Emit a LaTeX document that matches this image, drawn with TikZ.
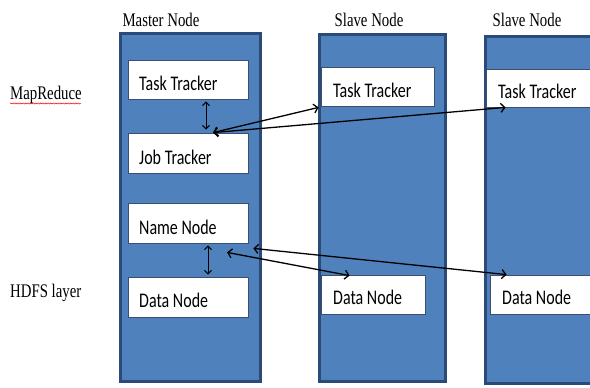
\documentclass[tikz,border=0pt]{standalone}
\usepackage{fontspec}
\setmainfont{Liberation Serif}
\newfontfamily\calib{Carlito}
\usetikzlibrary{arrows.meta,decorations.pathmorphing}
\definecolor{boxblue}{RGB}{79,129,189}
\definecolor{boxedge}{RGB}{44,74,120}
\definecolor{whiteedge}{RGB}{60,80,110}
\tikzset{
  column/.style={draw=boxedge, fill=boxblue, line width=3pt},
  compbox/.style={draw=whiteedge, fill=white, line width=0.8pt, rectangle, inner sep=0pt},
  comptext/.style={anchor=west, inner sep=0pt, font=\calib\fontsize{16}{16}\selectfont},
  headtext/.style={inner sep=0pt, font=\fontsize{14.8}{15}\selectfont},
  conn/.style={line width=1.3pt, {Straight Barb[length=4pt,width=9pt]}-{Straight Barb[length=4pt,width=9pt]}},
  vconn/.style={line width=1pt, {Straight Barb[length=3.5pt,width=7pt]}-{Straight Barb[length=3.5pt,width=7pt]}}
}
\newcommand{\vs}[1]{\scalebox{1}[1.3]{#1}}
\begin{document}
\begin{tikzpicture}[x=1pt,y=-1pt]
\useasboundingbox (0,0) rectangle (590,388);
\clip (0,0) rectangle (590,388);
\fill[white] (0,0) rectangle (590,388);
% columns
\draw[column] (120.5,33.5) rectangle (260.5,381.5);
\draw[column] (319.5,34.5) rectangle (445.5,381.5);
\draw[column] (485.5,36.5) rectangle (600,383.5);
% headings
\node[headtext] (hmaster) at (161,20) {\vs{Master Node}};
\node[headtext] (hslave1) at (369,20) {\vs{Slave Node}};
\node[headtext] (hslave2) at (527,20) {\vs{Slave Node}};
\node[headtext, anchor=west] (hmr) at (10,95) {\vs{MapReduce}};
\node[headtext, anchor=west] (hhdfs) at (10,293) {\vs{HDFS layer}};
\draw[red, line width=0.5pt, decorate, decoration={snake, amplitude=0.6pt, segment length=2.5pt}] (10,103.5) -- (81,103.5);
% component boxes (master)
\node[compbox, minimum width=120pt, minimum height=39pt] (tt0) at (188,79.5) {};
\node[compbox, minimum width=120pt, minimum height=40pt] (jt) at (188,153) {};
\node[compbox, minimum width=120pt, minimum height=40pt] (nn) at (188,223) {};
\node[compbox, minimum width=120pt, minimum height=40pt] (dn0) at (188,297) {};
% slave 1
\node[compbox, minimum width=113pt, minimum height=39pt] (tt1) at (377.5,86.5) {};
\node[compbox, minimum width=104pt, minimum height=39pt] (dn1) at (373,294.5) {};
% slave 2
\node[compbox, minimum width=114pt, minimum height=38pt] (tt2) at (543,88) {};
\node[compbox, minimum width=110pt, minimum height=39pt] (dn2) at (545,294.5) {};
% texts
\node[comptext] (ttt0) at (139,83) {\vs{Task Tracker}};
\node[comptext] (tjt) at (139,157) {\vs{Job Tracker}};
\node[comptext] (tnn) at (139,227) {\vs{Name Node}};
\node[comptext] (tdn0) at (139,300) {\vs{Data Node}};
\node[comptext] (ttt1) at (333,90) {\vs{Task Tracker}};
\node[comptext] (tdn1) at (333,297) {\vs{Data Node}};
\node[comptext] (ttt2) at (498,91) {\vs{Task Tracker}};
\node[comptext] (tdn2) at (502,297) {\vs{Data Node}};
% connectors
\draw[vconn] ([xshift=18pt,yshift=-2pt]tt0.south) -- ([xshift=18pt,yshift=3pt]jt.north);
\draw[vconn] ([xshift=20pt,yshift=-2pt]nn.south) -- ([xshift=20pt,yshift=2pt]dn0.north);
\coordinate (jtp) at ([xshift=25pt]jt.north);
\draw[conn] (jtp) -- ([xshift=-2pt,yshift=-1pt]tt1.south west);
\draw[conn] (jtp) -- ([xshift=20pt]tt2.south west);
\draw[conn] ([xshift=39pt,yshift=-9pt]nn.south) -- ([xshift=29pt,yshift=-1pt]dn1.north west);
\draw[conn] ([xshift=5pt,yshift=-5pt]nn.south east) -- ([xshift=17pt]dn2.north west);
\end{tikzpicture}
\end{document}
